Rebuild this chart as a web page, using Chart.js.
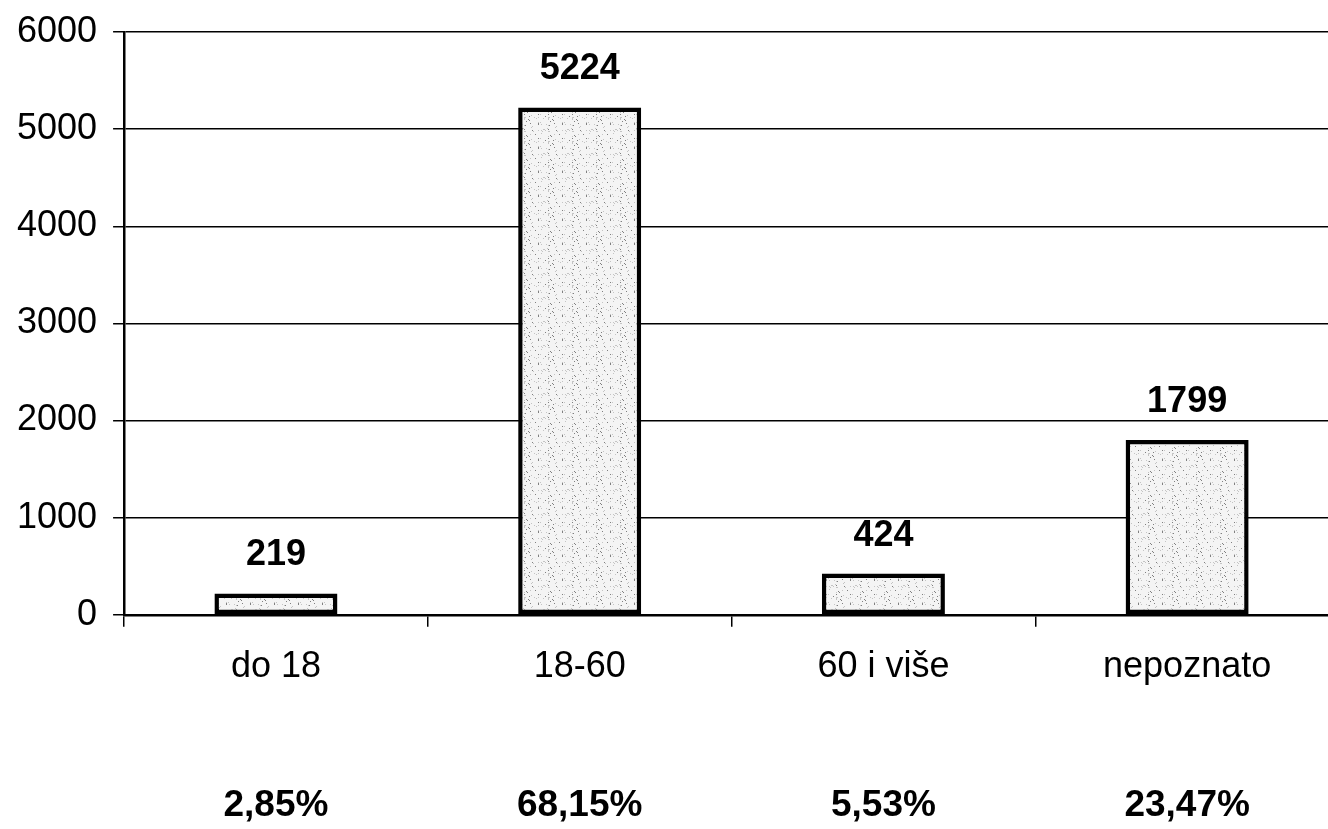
<!DOCTYPE html>
<html>
<head>
<meta charset="utf-8">
<title>Starosne grupe</title>
<script src="https://cdn.jsdelivr.net/npm/chart.js@4.4.1/dist/chart.umd.min.js"></script>
<style>
  html, body { margin: 0; padding: 0; background: #fff; overflow: hidden; }
  canvas { display: block; }
</style>
</head>
<body>
<!-- plot runs a little past the right edge, like the scanned original -->
<canvas id="ageChart" width="1340" height="829"></canvas>
<script>
// ── Data ─────────────────────────────────────────────
const categories  = ['do 18', '18-60', '60 i više', 'nepoznato'];
const counts      = [219, 5224, 424, 1799];
const percentages = ['2,85%', '68,15%', '5,53%', '23,47%'];
const yTicks      = [0, 1000, 2000, 3000, 4000, 5000, 6000];

const FONT = "Arial, 'Liberation Sans', sans-serif";

// stippled grey fill for the bars
function stipple() {
  const c = document.createElement('canvas');
  c.width = c.height = 24;
  const g = c.getContext('2d');
  g.fillStyle = '#f4f4f4';
  g.fillRect(0, 0, 24, 24);
  let s = 7;
  for (let i = 0; i < 46; i++) {
    s = (s * 73 + 41) % 577;
    const x = s % 24, y = Math.floor(s / 24) % 24;
    g.fillStyle = i % 3 ? '#c4c4c4' : '#808080';
    g.fillRect(x, y, 1, 1);
  }
  return g.createPattern(c, 'repeat');
}

// value labels above bars + percentage row under the category labels
const barLabels = {
  id: 'barLabels',
  afterDraw(chart) {
    const ctx = chart.ctx;
    const meta = chart.getDatasetMeta(0);
    const xs = chart.scales.x;
    ctx.save();
    ctx.fillStyle = '#000';
    ctx.textAlign = 'center';
    ctx.textBaseline = 'middle';
    ctx.font = 'bold 36px ' + FONT;
    meta.data.forEach((bar, i) => {
      ctx.fillText(String(counts[i]), bar.x, bar.y - 38);
    });
    ctx.font = 'bold 37px ' + FONT;
    percentages.forEach((p, i) => {
      ctx.fillText(p, xs.getPixelForValue(i), chart.chartArea.bottom + 191);
    });
    ctx.restore();
  }
};

new Chart(document.getElementById('ageChart'), {
  type: 'bar',
  data: {
    labels: categories,
    datasets: [{
      data: counts,
      backgroundColor: stipple(),
      borderColor: '#000',
      borderWidth: 4.5,
      borderSkipped: false,
      categoryPercentage: 1,
      barPercentage: 0.405
    }]
  },
  options: {
    responsive: false,
    animation: false,
    layout: { padding: { top: 32, left: 1, right: 1, bottom: 121 } },
    plugins: { legend: { display: false }, tooltip: { enabled: false } },
    scales: {
      y: {
        min: 0,
        max: 6000,
        afterBuildTicks: axis => { axis.ticks = yTicks.map(v => ({ value: v })); },
        grid: { color: '#000', lineWidth: 1.5, drawTicks: true, tickLength: 11 },
        border: { color: '#000', width: 2.5 },
        ticks: { color: '#000', padding: 16, callback: v => String(v), font: { family: FONT, size: 36, lineHeight: 0.8 } }
      },
      x: {
        grid: { color: '#000', lineWidth: 1.5, drawOnChartArea: false, drawTicks: true, tickLength: 12, offset: true },
        border: { color: '#000', width: 2.5 },
        ticks: { color: '#000', padding: 19, maxRotation: 0, autoSkip: false, font: { family: FONT, size: 36 } }
      }
    }
  },
  plugins: [barLabels]
});
</script>
</body>
</html>
